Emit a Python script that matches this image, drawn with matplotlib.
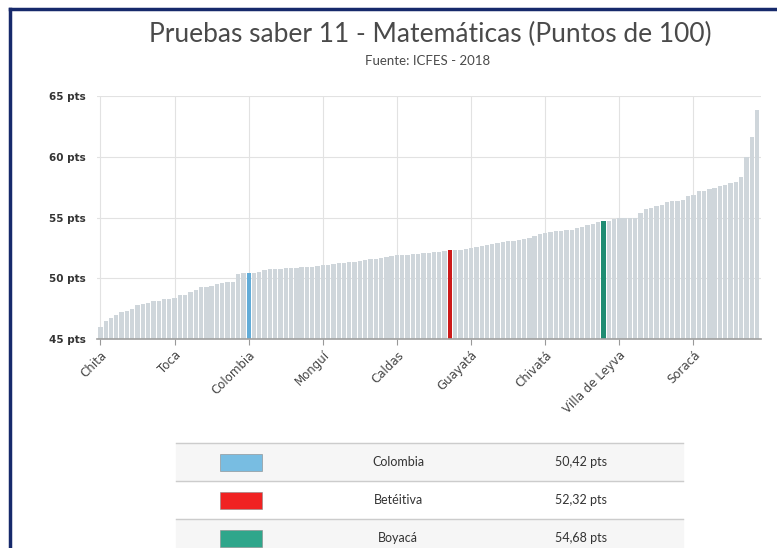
import numpy as np
import matplotlib
matplotlib.use("Agg")
import matplotlib.pyplot as plt
from matplotlib.lines import Line2D
from matplotlib.patches import Rectangle

# puntajes ordenados (Boyacá municipios + Colombia + Boyacá)
puntajes = [
    46.0, 46.5, 46.75, 47.0, 47.2, 47.3, 47.5, 47.8, 47.9, 48.0,
    48.1, 48.12, 48.3, 48.32, 48.4, 48.6, 48.65, 48.85, 49.0, 49.3,
    49.31, 49.33, 49.5, 49.65, 49.7, 49.72, 50.36, 50.4, 50.42, 50.45,
    50.5, 50.72, 50.75, 50.76, 50.78, 50.85, 50.87, 50.88, 50.9, 50.92,
    50.95, 51.0, 51.05, 51.1, 51.15, 51.25, 51.28, 51.3, 51.35, 51.45,
    51.5, 51.58, 51.62, 51.68, 51.75, 51.82, 51.88, 51.92, 51.95, 52.0,
    52.03, 52.07, 52.1, 52.15, 52.2, 52.25, 52.32, 52.33, 52.35, 52.44,
    52.5, 52.57, 52.65, 52.72, 52.8, 52.9, 52.98, 53.05, 53.1, 53.15,
    53.2, 53.3, 53.45, 53.65, 53.75, 53.8, 53.87, 53.92, 53.96, 54.0,
    54.1, 54.2, 54.36, 54.5, 54.62, 54.68, 54.7, 54.9, 54.93, 54.95,
    54.97, 55.0, 55.4, 55.72, 55.76, 55.98, 56.02, 56.3, 56.35, 56.38,
    56.4, 56.8, 56.85, 57.15, 57.2, 57.38, 57.42, 57.62, 57.7, 57.88,
    57.95, 58.35, 60.0, 61.66, 63.87,
]
tick_idx = [0, 14, 28, 42, 56, 70, 84, 98, 112]
tick_labels = ["Chita", "Toca", "Colombia", "Monguí", "Caldas", "Guayatá",
               "Chivatá", "Villa de Leyva", "Soracá"]
resaltados = ["Colombia", "Betéitiva", "Boyacá"]
resaltados_idx = [28, 66, 95]
resaltados_val = ["50,42 pts", "52,32 pts", "54,68 pts"]
colores_barra = ["#62acd8", "#cc1a1a", "#1f8c72"]
colores_tabla = ["#78bde2", "#f02222", "#2fa68b"]

plt.rcParams['font.family'] = ['Lato', 'DejaVu Sans']

fig = plt.figure(figsize=(7.77, 5.48), dpi=100)

x = np.arange(len(puntajes))
colores = ["#cfd6db"] * len(puntajes)
for i, c in zip(resaltados_idx, colores_barra):
    colores[i] = c

ax = fig.add_axes([97 / 777, 209 / 548, 664 / 777, 243 / 548])
ax.bar(x, np.array(puntajes) - 45, bottom=45, width=0.82, color=colores, zorder=2)
ax.set_ylim(45, 65)
ax.set_xlim(-0.65, 124.75)
ax.set_yticks([45, 50, 55, 60, 65])
ax.set_yticklabels([f"{v} pts" for v in [45, 50, 55, 60, 65]],
                   fontsize=7.5, color="#333333", fontweight="bold",
                   family="DejaVu Sans")
ax.set_xticks(tick_idx)
ax.set_xticklabels(tick_labels, rotation=45, ha="right", rotation_mode="anchor",
                   fontsize=8.5, color="#444444", family="DejaVu Sans")
ax.tick_params(axis="y", length=0, pad=8)
ax.tick_params(axis="x", length=4, color="#999999", pad=3)
ax.grid(True, color="#e2e2e2", lw=0.8, zorder=0)
for s in ["top", "right", "left"]:
    ax.spines[s].set_visible(False)
ax.spines["bottom"].set_color("#a0a0a0")
ax.spines["bottom"].set_linewidth(1.2)

fig.text(430 / 777, 1 - 34 / 548, "Pruebas saber 11 - Matemáticas (Puntos de 100)",
         ha="center", va="center", fontsize=19, color="#4a4a4a", fontweight="normal")
fig.text(428 / 777, 1 - 61 / 548, "Fuente: ICFES - 2018",
         ha="center", va="center", fontsize=9.5, color="#4a4a4a")

# tabla de resaltados
fila_top = [443, 481, 519]
fila_h = 38
for k in range(3):
    y0 = fila_top[k]
    if k != 1:
        fig.add_artist(Rectangle((176 / 777, 1 - (y0 + fila_h) / 548), 507 / 777, fila_h / 548,
                                 transform=fig.transFigure, color="#f6f6f6", zorder=0))
    fig.add_artist(Line2D([176 / 777, 683 / 777], [1 - y0 / 548] * 2,
                          transform=fig.transFigure, color="#cccccc", lw=1))
    yc = y0 + fila_h / 2
    fig.add_artist(Rectangle((220 / 777, 1 - (yc + 8.5) / 548), 42 / 777, 17 / 548,
                             transform=fig.transFigure, facecolor=colores_tabla[k],
                             edgecolor="#888888", lw=0.4))
    fig.text(398 / 777, 1 - yc / 548, resaltados[k], ha="center", va="center",
             fontsize=9, color="#333333")
    fig.text(581 / 777, 1 - yc / 548, resaltados_val[k], ha="center", va="center",
             fontsize=9, color="#333333")

# marco azul
fig.add_artist(Line2D([9.5 / 777, 9.5 / 777], [0, 1 - 9 / 548],
                      transform=fig.transFigure, color="#16296b", lw=2.5))
fig.add_artist(Line2D([9.5 / 777, 1], [1 - 9 / 548] * 2,
                      transform=fig.transFigure, color="#16296b", lw=2.5))

fig.savefig("out.png", dpi=100)
